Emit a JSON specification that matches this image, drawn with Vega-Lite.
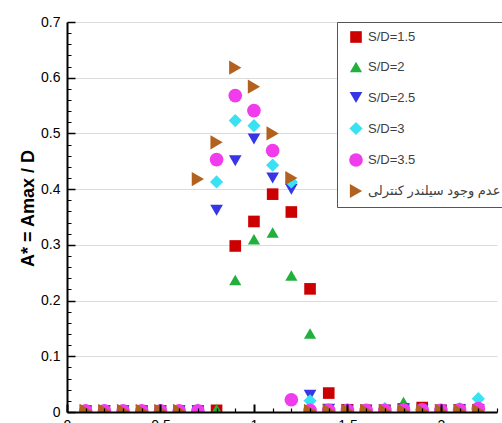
{
  "$schema": "https://vega.github.io/schema/vega-lite/v6.json",
  "width": 430,
  "height": 390,
  "autosize": {"type": "none"},
  "padding": {"left": 67, "top": 22, "right": 5, "bottom": 11},
  "background": "white",
  "config": {
    "view": {"stroke": null},
    "font": "Liberation Sans"
  },
  "datasets": {
    "pts": [
      {"s": "S/D=1.5", "x": 0.1, "y": 0.002}, {"s": "S/D=1.5", "x": 0.2, "y": 0.002}, {"s": "S/D=1.5", "x": 0.3, "y": 0.002}, {"s": "S/D=1.5", "x": 0.4, "y": 0.002}, {"s": "S/D=1.5", "x": 0.5, "y": 0.002}, {"s": "S/D=1.5", "x": 0.6, "y": 0.002}, {"s": "S/D=1.5", "x": 0.7, "y": 0.002}, {"s": "S/D=1.5", "x": 0.8, "y": 0.003},
      {"s": "S/D=1.5", "x": 0.9, "y": 0.298}, {"s": "S/D=1.5", "x": 1.0, "y": 0.342}, {"s": "S/D=1.5", "x": 1.1, "y": 0.391}, {"s": "S/D=1.5", "x": 1.2, "y": 0.359}, {"s": "S/D=1.5", "x": 1.3, "y": 0.221}, {"s": "S/D=1.5", "x": 1.4, "y": 0.034},
      {"s": "S/D=1.5", "x": 1.5, "y": 0.004}, {"s": "S/D=1.5", "x": 1.6, "y": 0.003}, {"s": "S/D=1.5", "x": 1.7, "y": 0.003}, {"s": "S/D=1.5", "x": 1.8, "y": 0.005}, {"s": "S/D=1.5", "x": 1.9, "y": 0.008}, {"s": "S/D=1.5", "x": 2.0, "y": 0.003}, {"s": "S/D=1.5", "x": 2.1, "y": 0.004}, {"s": "S/D=1.5", "x": 2.2, "y": 0.004},
      {"s": "S/D=2", "x": 0.1, "y": 0.002}, {"s": "S/D=2", "x": 0.2, "y": 0.002}, {"s": "S/D=2", "x": 0.3, "y": 0.002}, {"s": "S/D=2", "x": 0.4, "y": 0.002}, {"s": "S/D=2", "x": 0.5, "y": 0.002}, {"s": "S/D=2", "x": 0.6, "y": 0.002}, {"s": "S/D=2", "x": 0.7, "y": 0.002}, {"s": "S/D=2", "x": 0.8, "y": 0.005},
      {"s": "S/D=2", "x": 0.9, "y": 0.237}, {"s": "S/D=2", "x": 1.0, "y": 0.31}, {"s": "S/D=2", "x": 1.1, "y": 0.322}, {"s": "S/D=2", "x": 1.2, "y": 0.245}, {"s": "S/D=2", "x": 1.3, "y": 0.141},
      {"s": "S/D=2", "x": 1.4, "y": 0.003}, {"s": "S/D=2", "x": 1.5, "y": 0.003}, {"s": "S/D=2", "x": 1.6, "y": 0.003}, {"s": "S/D=2", "x": 1.7, "y": 0.005}, {"s": "S/D=2", "x": 1.8, "y": 0.018}, {"s": "S/D=2", "x": 1.9, "y": 0.004}, {"s": "S/D=2", "x": 2.0, "y": 0.003}, {"s": "S/D=2", "x": 2.1, "y": 0.004}, {"s": "S/D=2", "x": 2.2, "y": 0.004},
      {"s": "S/D=2.5", "x": 0.1, "y": 0.002}, {"s": "S/D=2.5", "x": 0.2, "y": 0.002}, {"s": "S/D=2.5", "x": 0.3, "y": 0.002}, {"s": "S/D=2.5", "x": 0.4, "y": 0.002}, {"s": "S/D=2.5", "x": 0.5, "y": 0.002}, {"s": "S/D=2.5", "x": 0.6, "y": 0.002}, {"s": "S/D=2.5", "x": 0.7, "y": 0.002},
      {"s": "S/D=2.5", "x": 0.8, "y": 0.362}, {"s": "S/D=2.5", "x": 0.9, "y": 0.451}, {"s": "S/D=2.5", "x": 1.0, "y": 0.49}, {"s": "S/D=2.5", "x": 1.1, "y": 0.42}, {"s": "S/D=2.5", "x": 1.2, "y": 0.40}, {"s": "S/D=2.5", "x": 1.3, "y": 0.03},
      {"s": "S/D=2.5", "x": 1.4, "y": 0.005}, {"s": "S/D=2.5", "x": 1.5, "y": 0.003}, {"s": "S/D=2.5", "x": 1.6, "y": 0.003}, {"s": "S/D=2.5", "x": 1.7, "y": 0.003}, {"s": "S/D=2.5", "x": 1.8, "y": 0.006}, {"s": "S/D=2.5", "x": 1.9, "y": 0.004}, {"s": "S/D=2.5", "x": 2.0, "y": 0.003}, {"s": "S/D=2.5", "x": 2.1, "y": 0.004}, {"s": "S/D=2.5", "x": 2.2, "y": 0.004},
      {"s": "S/D=3", "x": 0.1, "y": 0.002}, {"s": "S/D=3", "x": 0.2, "y": 0.002}, {"s": "S/D=3", "x": 0.3, "y": 0.002}, {"s": "S/D=3", "x": 0.4, "y": 0.002}, {"s": "S/D=3", "x": 0.5, "y": 0.002}, {"s": "S/D=3", "x": 0.6, "y": 0.002}, {"s": "S/D=3", "x": 0.7, "y": 0.004},
      {"s": "S/D=3", "x": 0.8, "y": 0.413}, {"s": "S/D=3", "x": 0.9, "y": 0.523}, {"s": "S/D=3", "x": 1.0, "y": 0.514}, {"s": "S/D=3", "x": 1.1, "y": 0.443}, {"s": "S/D=3", "x": 1.2, "y": 0.413}, {"s": "S/D=3", "x": 1.3, "y": 0.02},
      {"s": "S/D=3", "x": 1.4, "y": 0.003}, {"s": "S/D=3", "x": 1.5, "y": 0.003}, {"s": "S/D=3", "x": 1.6, "y": 0.003}, {"s": "S/D=3", "x": 1.7, "y": 0.006}, {"s": "S/D=3", "x": 1.8, "y": 0.004}, {"s": "S/D=3", "x": 1.9, "y": 0.004}, {"s": "S/D=3", "x": 2.0, "y": 0.003}, {"s": "S/D=3", "x": 2.1, "y": 0.006}, {"s": "S/D=3", "x": 2.2, "y": 0.024},
      {"s": "S/D=3.5", "x": 0.1, "y": 0.002}, {"s": "S/D=3.5", "x": 0.2, "y": 0.002}, {"s": "S/D=3.5", "x": 0.3, "y": 0.002}, {"s": "S/D=3.5", "x": 0.4, "y": 0.002}, {"s": "S/D=3.5", "x": 0.5, "y": 0.002}, {"s": "S/D=3.5", "x": 0.6, "y": 0.002}, {"s": "S/D=3.5", "x": 0.7, "y": 0.002},
      {"s": "S/D=3.5", "x": 0.8, "y": 0.453}, {"s": "S/D=3.5", "x": 0.9, "y": 0.568}, {"s": "S/D=3.5", "x": 1.0, "y": 0.541}, {"s": "S/D=3.5", "x": 1.1, "y": 0.469}, {"s": "S/D=3.5", "x": 1.2, "y": 0.022},
      {"s": "S/D=3.5", "x": 1.3, "y": 0.003}, {"s": "S/D=3.5", "x": 1.4, "y": 0.003}, {"s": "S/D=3.5", "x": 1.5, "y": 0.003}, {"s": "S/D=3.5", "x": 1.6, "y": 0.003}, {"s": "S/D=3.5", "x": 1.7, "y": 0.003}, {"s": "S/D=3.5", "x": 1.8, "y": 0.004}, {"s": "S/D=3.5", "x": 1.9, "y": 0.004}, {"s": "S/D=3.5", "x": 2.0, "y": 0.003}, {"s": "S/D=3.5", "x": 2.1, "y": 0.004}, {"s": "S/D=3.5", "x": 2.2, "y": 0.006},
      {"s": "عدم وجود سیلندر کنترلی", "x": 0.1, "y": 0.002}, {"s": "عدم وجود سیلندر کنترلی", "x": 0.2, "y": 0.002}, {"s": "عدم وجود سیلندر کنترلی", "x": 0.3, "y": 0.002}, {"s": "عدم وجود سیلندر کنترلی", "x": 0.4, "y": 0.002}, {"s": "عدم وجود سیلندر کنترلی", "x": 0.5, "y": 0.002}, {"s": "عدم وجود سیلندر کنترلی", "x": 0.6, "y": 0.002},
      {"s": "عدم وجود سیلندر کنترلی", "x": 0.7, "y": 0.418}, {"s": "عدم وجود سیلندر کنترلی", "x": 0.8, "y": 0.484}, {"s": "عدم وجود سیلندر کنترلی", "x": 0.9, "y": 0.618}, {"s": "عدم وجود سیلندر کنترلی", "x": 1.0, "y": 0.584}, {"s": "عدم وجود سیلندر کنترلی", "x": 1.1, "y": 0.50}, {"s": "عدم وجود سیلندر کنترلی", "x": 1.2, "y": 0.42},
      {"s": "عدم وجود سیلندر کنترلی", "x": 1.3, "y": 0.002}, {"s": "عدم وجود سیلندر کنترلی", "x": 1.4, "y": 0.002}, {"s": "عدم وجود سیلندر کنترلی", "x": 1.5, "y": 0.002}, {"s": "عدم وجود سیلندر کنترلی", "x": 1.6, "y": 0.002}, {"s": "عدم وجود سیلندر کنترلی", "x": 1.7, "y": 0.002}, {"s": "عدم وجود سیلندر کنترلی", "x": 1.8, "y": 0.002}, {"s": "عدم وجود سیلندر کنترلی", "x": 1.9, "y": 0.002}, {"s": "عدم وجود سیلندر کنترلی", "x": 2.0, "y": 0.002}, {"s": "عدم وجود سیلندر کنترلی", "x": 2.1, "y": 0.002}, {"s": "عدم وجود سیلندر کنترلی", "x": 2.2, "y": 0.002}
    ]
  },
  "data": {"name": "pts"},
  "layer": [
    {
      "mark": {"type": "point", "opacity": 0},
      "encoding": {
        "x": {"field": "x", "type": "quantitative", "axis": null},
        "y": {
          "field": "y", "type": "quantitative",
          "axis": {
            "orient": "left", "title": null, "labels": false, "domain": false, "ticks": false,
            "grid": true, "gridColor": "#dcdcdc", "gridWidth": 1, "zindex": 0,
            "values": [0.1, 0.2, 0.3, 0.4, 0.5, 0.6, 0.7]
          }
        }
      }
    },
    {
      "mark": {"type": "point", "filled": true, "opacity": 1, "clip": true},
      "encoding": {
        "x": {
          "field": "x", "type": "quantitative",
          "scale": {"domain": [0, 2.3], "nice": false, "zero": false},
          "axis": {
            "orient": "bottom",
            "title": null, "values": [0, 0.5, 1, 1.5, 2], "format": "~g",
            "ticks": true, "tickSize": -8, "tickWidth": 2, "tickColor": "black",
            "domainColor": "black", "domainWidth": 2,
            "labelFontSize": 14, "labelColor": "black", "labelFont": "Liberation Sans",
            "labelPadding": 14, "grid": false, "labelFlush": false, "zindex": 2
          }
        },
        "y": {
          "field": "y", "type": "quantitative",
          "scale": {"domain": [0, 0.7], "nice": false, "zero": true},
          "axis": {
            "orient": "left",
            "title": "A* = Amax / D", "titleFontSize": 18, "titleFontWeight": "bold", "titleColor": "black",
            "titleFont": "Liberation Sans", "titleY": 186, "titleX": -30,
            "values": [0, 0.1, 0.2, 0.3, 0.4, 0.5, 0.6, 0.7], "format": "~g",
            "ticks": true, "tickSize": -8, "tickWidth": 1.5, "tickColor": "black",
            "domainColor": "black", "domainWidth": 2,
            "labelFontSize": 14, "labelColor": "black", "labelFont": "Liberation Sans",
            "labelPadding": 15, "labelFlush": false,
            "grid": false, "zindex": 2
          }
        },
        "color": {
          "field": "s", "type": "nominal", "title": null,
          "scale": {
            "domain": ["S/D=1.5", "S/D=2", "S/D=2.5", "S/D=3", "S/D=3.5", "عدم وجود سیلندر کنترلی"],
            "range": ["#cc0000", "#22b03c", "#3636e6", "#38e2f2", "#f03cec", "#b2621e"]
          },
          "legend": {
            "orient": "none", "legendX": 270, "legendY": 0,
            "direction": "vertical",
            "fillColor": "white", "strokeColor": "#555",
            "padding": 8, "rowPadding": 16, "symbolSize": 80, "symbolOffset": 3,
            "labelColor": "#404040", "labelFontSize": 13, "labelFontWeight": "normal",
            "labelFont": "Liberation Sans, DejaVu Sans", "labelOffset": 4, "labelLimit": 300,
            "cornerRadius": 0
          }
        },
        "shape": {
          "field": "s", "type": "nominal",
          "scale": {
            "domain": ["S/D=1.5", "S/D=2", "S/D=2.5", "S/D=3", "S/D=3.5", "عدم وجود سیلندر کنترلی"],
            "range": ["square", "triangle-up", "triangle-down", "diamond", "circle", "triangle-right"]
          },
          "legend": null
        },
        "size": {
          "field": "s", "type": "nominal",
          "scale": {
            "domain": ["S/D=1.5", "S/D=2", "S/D=2.5", "S/D=3", "S/D=3.5", "عدم وجود سیلندر کنترلی"],
            "range": [135, 200, 190, 210, 175, 180]
          },
          "legend": null
        }
      }
    },
    {
      "mark": {"type": "point", "opacity": 0},
      "encoding": {
        "x": {
          "field": "x", "type": "quantitative",
          "axis": {
            "orient": "bottom", "title": null, "labels": false, "domain": false, "grid": false,
            "values": [0.1, 0.2, 0.3, 0.4, 0.6, 0.7, 0.8, 0.9, 1.1, 1.2, 1.3, 1.4, 1.6, 1.7, 1.8, 1.9, 2.1, 2.2, 2.3],
            "ticks": true, "tickSize": -4, "tickWidth": 1.2, "tickColor": "black", "zindex": 2
          }
        },
        "y": {
          "field": "y", "type": "quantitative",
          "axis": {
            "orient": "left", "title": null, "labels": false, "domain": false, "grid": false,
            "values": [0.02, 0.04, 0.06, 0.08, 0.12, 0.14, 0.16, 0.18, 0.22, 0.24, 0.26, 0.28, 0.32, 0.34, 0.36, 0.38, 0.42, 0.44, 0.46, 0.48, 0.52, 0.54, 0.56, 0.58, 0.62, 0.64, 0.66, 0.68],
            "ticks": true, "tickSize": -4, "tickWidth": 1, "tickColor": "black", "zindex": 2
          }
        }
      }
    }
  ],
  "resolve": {"axis": {"x": "independent", "y": "independent"}}
}
